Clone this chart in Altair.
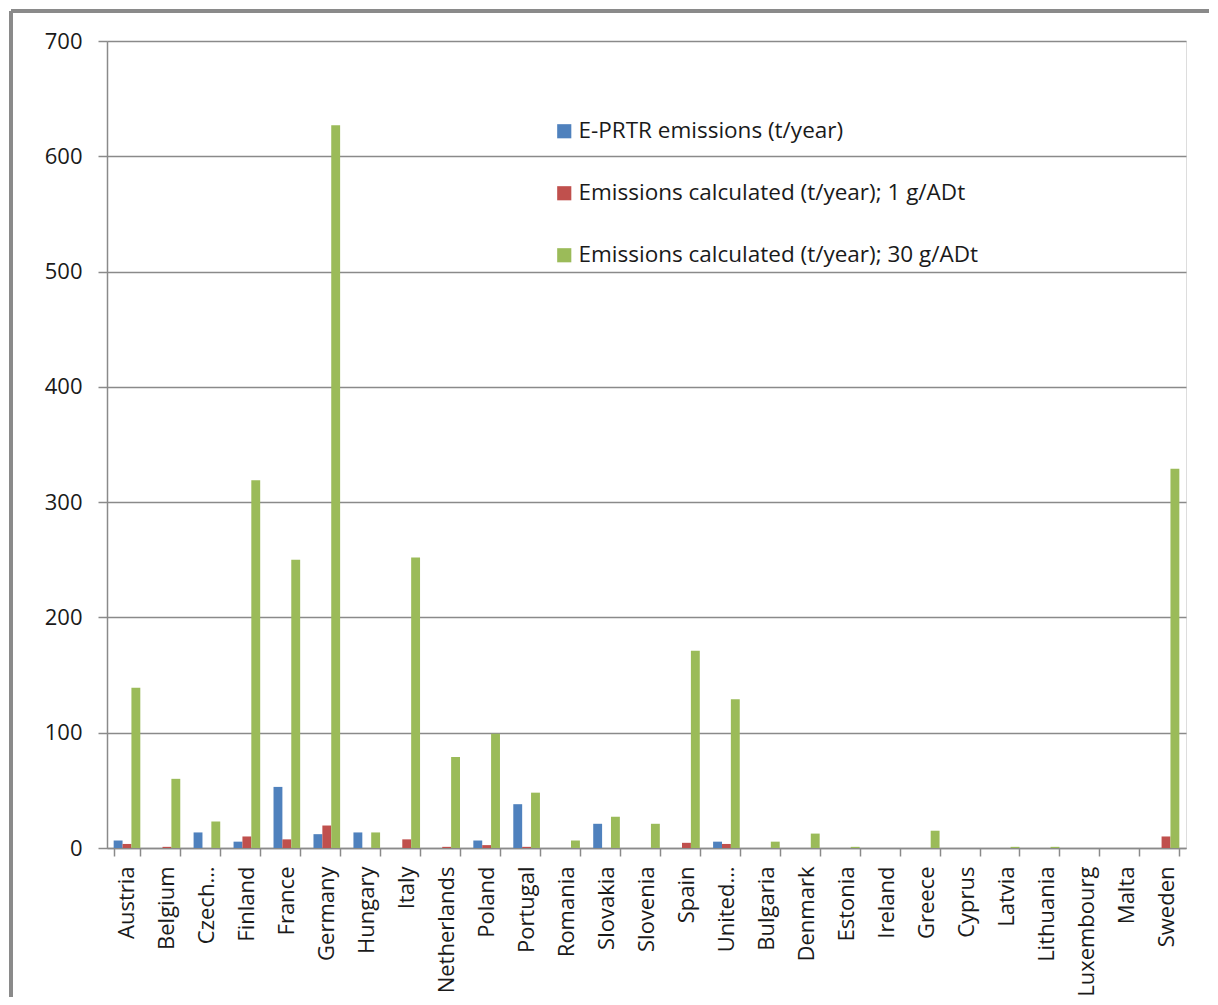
import altair as alt
import pandas as pd

countries = ["Austria", "Belgium", "Czech…", "Finland", "France", "Germany", "Hungary",
             "Italy", "Netherlands", "Poland", "Portugal", "Romania", "Slovakia", "Slovenia",
             "Spain", "United…", "Bulgaria", "Denmark", "Estonia", "Ireland", "Greece",
             "Cyprus", "Latvia", "Lithuania", "Luxembourg", "Malta", "Sweden"]

eprtr = [6.5, 0, 13.5, 5.5, 53, 12, 13.5, 0, 0, 6.5, 38, 0, 21, 0,
         0, 5.5, 0, 0, 0, 0, 0, 0, 0, 0, 0, 0, 0]
calc_1g = [3.5, 1, 0, 10, 7.5, 19.5, 0, 7.5, 1, 2.5, 1, 0, 0, 0,
           4.5, 3.5, 0, 0, 0, 0, 0, 0, 0, 0, 0, 0, 10]
calc_30g = [139, 60, 23, 319, 250, 627, 13.5, 252, 79, 99, 48, 6.5, 27, 21,
            171, 129, 5.5, 12.5, 1, 0, 15, 0, 1, 1, 0, 0, 329]

series = ["E-PRTR emissions (t/year)",
          "Emissions calculated (t/year); 1 g/ADt",
          "Emissions calculated (t/year); 30 g/ADt"]
colors = ["#4F81BD", "#C0504D", "#9BBB59"]

rows = []
for i, c in enumerate(countries):
    for s, vals in zip(series, [eprtr, calc_1g, calc_30g]):
        rows.append({"country": c, "series": s, "value": vals[i]})
df = pd.DataFrame(rows)

FONT = "Open Sans"
GREY = "#8a8a8a"
TXT = "#1a1a1a"

bars = alt.Chart(df).mark_bar().encode(
    x=alt.X("country:N", sort=countries,
            scale=alt.Scale(paddingInner=0.3333, paddingOuter=0.1667),
            axis=alt.Axis(title=None, labelAngle=-90, tickBand="extent",
                          labelAlign="right", labelBaseline="middle",
                          labelFontSize=22, labelFont=FONT, labelColor=TXT,
                          labelPadding=10, tickSize=8, tickColor=GREY,
                          domainColor=GREY, domainWidth=1.5, tickWidth=1.5,
                          labelLimit=300)),
    xOffset=alt.XOffset("series:N", sort=series,
                        scale=alt.Scale(paddingInner=0, paddingOuter=0)),
    y=alt.Y("value:Q", scale=alt.Scale(domain=[0, 700], nice=False),
            axis=alt.Axis(title=None, values=list(range(0, 701, 100)),
                          labelFontSize=22, labelFont=FONT, labelColor=TXT,
                          labelPadding=16, tickSize=9, tickColor=GREY, tickWidth=1.5,
                          domainColor=GREY, domainWidth=1.5,
                          grid=True, gridColor=GREY, gridWidth=1.5)),
    color=alt.Color("series:N", sort=series,
                    scale=alt.Scale(domain=series, range=colors),
                    legend=alt.Legend(title=None, orient="none", legendX=446, legendY=79,
                                      symbolType="square", symbolSize=200,
                                      symbolStrokeWidth=0, labelFontSize=22.5,
                                      labelFont=FONT, labelColor=TXT,
                                      labelLimit=600, rowPadding=39, labelOffset=3)),
)

top_border = alt.Chart(df).mark_rule(color=GREY, strokeWidth=3).encode(
    x=alt.value(-96), x2=alt.value(1110), y=alt.value(-30)
)
left_border = alt.Chart(df).mark_rule(color=GREY, strokeWidth=3).encode(
    x=alt.value(-96), y=alt.value(-30), y2=alt.value(970)
)

chart = alt.layer(bars, top_border, left_border).properties(
    width=1079, height=807,
    padding={"left": 99, "top": 33, "right": 23, "bottom": 149},
    autosize=alt.AutoSizeParams(type="none"),
).configure_view(stroke=None).configure(background="white")

chart.save("out.html", embed_options={"renderer": "svg", "actions": False})
